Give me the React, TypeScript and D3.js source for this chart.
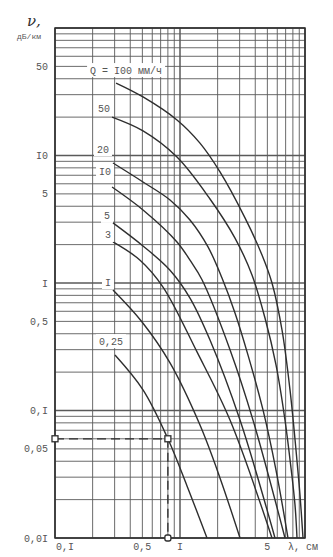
import React from 'react';
import * as d3 from 'd3';

// Rain attenuation ν (dB/km) versus wavelength λ (cm) for several rain rates Q (mm/h)
type Pt = [number, number];

const q100: Pt[] = [[0.308, 37.0], [0.506, 28.8], [0.946, 19.0], [1.445, 12.5], [2.089, 7.43], [3.311, 3.24], [4.529, 1.66], [5.445, 1.0], [6.546, 0.428], [7.586, 0.145], [8.472, 0.049], [9.12, 0.0217], [9.64, 0.01]];
const q50: Pt[] = [[0.286, 20.0], [0.506, 15.6], [0.946, 9.73], [1.738, 4.56], [2.754, 2.25], [3.767, 1.156], [4.786, 0.531], [5.861, 0.228], [6.918, 0.0841], [7.727, 0.0354], [8.318, 0.0182], [8.63, 0.01]];
const q20: Pt[] = [[0.291, 8.73], [0.506, 6.2], [0.832, 4.48], [1.202, 3.12], [1.675, 1.92], [2.168, 1.094], [2.754, 0.582], [3.5, 0.272], [4.613, 0.101], [5.861, 0.0341], [7.311, 0.01]];
const q10: Pt[] = [[0.286, 5.66], [0.506, 3.74], [0.946, 2.1], [1.202, 1.51], [1.5, 1.06], [2.512, 0.3], [3.837, 0.0841], [6.918, 0.01]];
const q5: Pt[] = [[0.291, 2.96], [0.506, 1.95], [0.832, 1.26], [1.202, 0.762], [1.738, 0.357], [3.02, 0.0841], [5.754, 0.01]];
const q3: Pt[] = [[0.291, 2.1], [0.479, 1.51], [0.731, 0.93], [1.368, 0.288], [2.512, 0.0841], [5.445, 0.01]];
const q1: Pt[] = [[0.291, 0.88], [0.497, 0.494], [0.832, 0.236], [1.445, 0.0769], [2.089, 0.0296], [3.02, 0.01]];
const q025: Pt[] = [[0.302, 0.272], [0.506, 0.145], [0.8, 0.06], [1.138, 0.0256], [1.644, 0.01]];

const seriesData: Pt[][] = [q100, q50, q20, q10, q5, q3, q1, q025];
const seriesLabels = ['Q = I00 мм/ч', '50', '20', 'I0', '5', '3', 'I', '0,25'];

const exampleLambda = 0.8;
const exampleNu = 0.06;

const yTickValues = [50, 10, 5, 1, 0.5, 0.1, 0.05, 0.01];
const yTickLabels = ['50', 'I0', '5', 'I', '0,5', '0,I', '0,05', '0,0I'];
const xTickValues = [0.1, 0.5, 1, 5];
const xTickLabels = ['0,I', '0,5', 'I', '5'];

// label placement relative to the first point of each curve (px)
const labelOffsets: [number, number][] = [[10, -13], [-8, -9], [-10, -14], [-7, -16], [-6, -7], [-5, -7], [-5, -8], [-4, -14]];

const W = 333;
const H = 557;
const plot = { left: 55, right: 305, top: 28, bottom: 538 };

const ink = '#2e2e2e';
const gridInk = '#5a5a5a';
const textInk = '#555';
const mono = '"Liberation Mono", "DejaVu Sans Mono", monospace';

export default function App() {
  const x = d3.scaleLog().domain([0.1, 10]).range([plot.left, plot.right]);
  const y = d3.scaleLog().domain([0.01, 100]).range([plot.bottom, plot.top]);

  const xGrid: number[] = [];
  [0.1, 1].forEach((d) => d3.range(1, 10).forEach((k) => xGrid.push(+(k * d).toPrecision(3))));
  xGrid.push(10);
  const yGrid: number[] = [];
  [0.01, 0.1, 1, 10].forEach((d) => d3.range(1, 10).forEach((k) => yGrid.push(+(k * d).toPrecision(3))));
  yGrid.push(100);

  const isDecade = (v: number) => Math.abs(Math.log10(v) - Math.round(Math.log10(v))) < 1e-6;

  const line = d3
    .line<Pt>()
    .x((d) => x(d[0]))
    .y((d) => y(d[1]))
    .curve(d3.curveCatmullRom.alpha(0.5));

  const ex = x(exampleLambda);
  const ey = y(exampleNu);

  return (
    <svg
      width={W}
      height={H}
      viewBox={`0 0 ${W} ${H}`}
      style={{ position: 'absolute', left: 0, top: 0, background: '#fff' }}
    >
      <rect x={0} y={0} width={W} height={H} fill="#fff" />

      {/* logarithmic grid */}
      <g>
        {xGrid.map((v) => (
          <line
            key={'vx' + v}
            x1={x(v)}
            x2={x(v)}
            y1={plot.top}
            y2={plot.bottom}
            stroke={gridInk}
            strokeWidth={isDecade(v) ? 1.5 : 0.9}
          />
        ))}
        {yGrid.map((v) => (
          <line
            key={'hy' + v}
            x1={plot.left}
            x2={plot.right}
            y1={y(v)}
            y2={y(v)}
            stroke={gridInk}
            strokeWidth={isDecade(v) ? 1.6 : 0.9}
          />
        ))}
        <rect
          x={plot.left}
          y={plot.top}
          width={plot.right - plot.left}
          height={plot.bottom - plot.top}
          fill="none"
          stroke={ink}
          strokeWidth={1.5}
        />
      </g>

      {/* attenuation curves */}
      <g fill="none" stroke={ink} strokeWidth={1.4}>
        {seriesData.map((s, i) => (
          <path key={'c' + i} d={line(s) ?? ''} />
        ))}
      </g>

      {/* curve labels on white patches */}
      <g fontFamily={mono} fontSize={10} fill={textInk}>
        {seriesData.map((s, i) => {
          const cx = x(s[0][0]) + labelOffsets[i][0];
          const cy = y(s[0][1]) + labelOffsets[i][1];
          const txt = seriesLabels[i];
          const w = txt.length * 6 + 6;
          return (
            <g key={'l' + i}>
              <rect x={cx - w / 2} y={cy - 7} width={w} height={14} fill="#fff" />
              <text x={cx} y={cy + 3.5} textAnchor="middle">
                {txt}
              </text>
            </g>
          );
        })}
      </g>

      {/* worked example: dashed reading lines */}
      <g stroke={ink} strokeWidth={1.3} fill="none">
        <line x1={plot.left} x2={ex} y1={ey} y2={ey} strokeDasharray="9,5" />
        <line x1={ex} x2={ex} y1={ey} y2={plot.bottom} strokeDasharray="9,5" />
        <rect x={plot.left - 3} y={ey - 3} width={6} height={6} fill="#fff" />
        <rect x={ex - 3} y={ey - 3} width={6} height={6} fill="#fff" />
        <rect x={ex - 3} y={plot.bottom - 3} width={6} height={6} rx={2} fill="#fff" />
      </g>

      {/* y axis labels */}
      <g fontFamily={mono} fontSize={10} fill={textInk} textAnchor="end">
        {yTickValues.map((v, i) => (
          <text key={'yt' + i} x={48} y={y(v) + 3.5}>
            {yTickLabels[i]}
          </text>
        ))}
      </g>
      <text x={27} y={26} fontFamily='"DejaVu Serif", serif' fontStyle="italic" fontSize={15} fill={ink}>
        ν,
      </text>
      <text x={17} y={39} fontFamily={mono} fontSize={8} fill={textInk}>
        дБ/км
      </text>

      {/* x axis labels */}
      <g fontFamily={mono} fontSize={10} fill={textInk}>
        {xTickValues.map((v, i) => (
          <text
            key={'xt' + i}
            x={i === 0 ? x(v) + 1 : x(v)}
            y={550}
            textAnchor={i === 0 ? 'start' : 'middle'}
          >
            {xTickLabels[i]}
          </text>
        ))}
        <text x={288} y={550}>
          λ, см
        </text>
      </g>
    </svg>
  );
}
